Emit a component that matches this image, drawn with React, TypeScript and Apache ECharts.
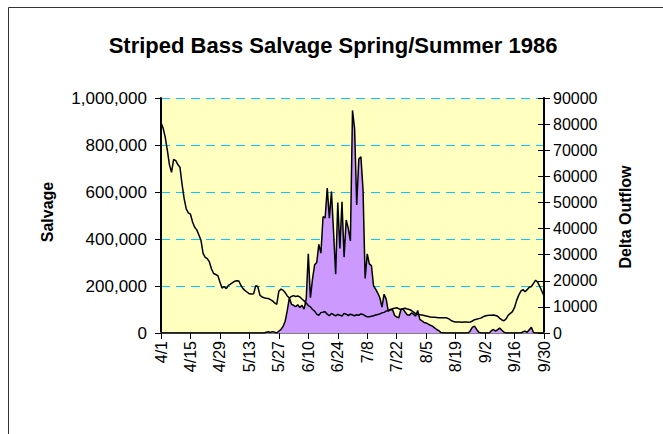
import React, { useEffect, useRef } from "react";
import * as echarts from "echarts";

const title = "Striped Bass Salvage Spring/Summer 1986";
const startMonth = 4;
const monthLengths = [30, 31, 30, 31, 31, 30]; // Apr..Sep 1986
const tickLabels = ["4/1", "4/15", "4/29", "5/13", "5/27", "6/10", "6/24", "7/8", "7/22", "8/5", "8/19", "9/2", "9/16", "9/30"];

// Daily salvage, 4/1 .. 9/30 (fish)
const salvage = [
  0, 0, 0, 0, 0, 0, 0, 0, 0, 0,
  0, 0, 0, 0, 0, 0, 0, 0, 0, 0,
  0, 0, 0, 0, 0, 0, 0, 0, 0, 0,
  0, 0, 0, 0, 0, 0, 0, 0, 0, 0,
  0, 0, 0, 0, 0, 0, 0, 0, 0, 0,
  3000, 5000, 2000, 6000, 3000, 0, 8000, 15000, 28000, 50000,
  95000, 150000, 122000, 118000, 112000, 120000, 108000, 118000, 102000, 145000,
  337000, 150000, 230000, 290000, 300000, 377000, 340000, 495000, 490000, 617000,
  489000, 602000, 430000, 250000, 555000, 360000, 558000, 323000, 481000, 445000,
  392000, 947000, 870000, 545000, 740000, 750000, 610000, 232000, 337000, 294000,
  287000, 201000, 187000, 170000, 150000, 110000, 165000, 144000, 93000, 98000,
  100000, 75000, 68000, 65000, 100000, 103000, 89000, 78000, 75000, 85000,
  80000, 72000, 96000, 58000, 52000, 45000, 43000, 38000, 33000, 29000,
  22000, 15000, 10000, 2000, 0, 0, 0, 0, 0, 0,
  0, 0, 0, 0, 0, 0, 0, 10000, 25000, 29000,
  15000, 3000, 0, 0, 0, 0, 0, 10000, 15000, 8000,
  14000, 21000, 12000, 3000, 0, 0, 0, 0, 0, 0,
  0, 0, 5000, 8000, 3000, 14000, 24000, 2000, 0, 0,
  0, 0, 0,
];

// Daily Delta Outflow, 4/1 .. 9/30 (cfs)
const deltaOutflow = [
  80500, 78500, 75000, 70000, 64500, 61500, 66500, 66000, 64500, 63500,
  57000, 51500, 47500, 46000, 45500, 42500, 40500, 39500, 37500, 35500,
  30500, 29000, 28500, 27200, 24500, 22800, 22400, 22000, 19500, 17200,
  17800, 17000, 18200, 18700, 19300, 19800, 20000, 19900, 18200, 17000,
  16200, 15600, 15000, 14900, 15000, 18100, 17800, 14500, 13800, 13500,
  13300, 13200, 12800, 12300, 11500, 11000, 16000, 16800, 16400, 15500,
  14200, 13400, 14000, 14300, 14000, 14200, 13800, 13000, 12300, 11500,
  10500, 10000, 9000, 8400, 7200, 6800, 7800, 8000, 8100, 7200,
  6600, 7500, 7000, 6600, 7100, 6800, 6500, 7500, 7200, 6700,
  7200, 6900, 6600, 7000, 6800, 7300, 7100, 6600, 6200, 6200,
  6400, 6600, 6900, 7100, 7300, 7700, 7900, 8400, 8600, 9000,
  9300, 9500, 9700, 9300, 9000, 9300, 9500, 9200, 9000, 8600,
  8000, 7400, 7100, 7000, 6900, 6700, 6500, 6300, 6100, 6000,
  6000, 5900, 5800, 5800, 5800, 5800, 5700, 5300, 4700, 4400,
  4200, 4200, 4200, 4100, 4200, 4200, 4100, 4200, 4600, 5100,
  5300, 5500, 5700, 6200, 6500, 6700, 6800, 6800, 6900, 6700,
  6400, 5600, 5000, 4700, 5400, 6800, 7500, 8200, 9800, 12500,
  14500, 16000, 16600, 15800, 16600, 17500, 17800, 19000, 20200, 19500,
  17800, 16000, 14200,
];

const days: string[] = [];
monthLengths.forEach((len, i) => {
  for (let d = 1; d <= len; d++) days.push(`${startMonth + i}/${d}`);
});

const FONT = "'Liberation Sans', Arial, sans-serif";

export default function App() {
  const ref = useRef<HTMLDivElement>(null);
  useEffect(() => {
    if (!ref.current) return;
    const chart = echarts.init(ref.current, undefined, { renderer: "svg" });
    chart.setOption({
      animation: false,
      backgroundColor: "#ffffff",
      textStyle: { fontFamily: FONT },
      graphic: [
        {
          type: "rect",
          z: -10,
          shape: { x: 8.5, y: 7.5, width: 800, height: 600 },
          style: { fill: "none", stroke: "#333333", lineWidth: 1 },
        },
        {
          type: "text",
          x: 333,
          y: 45,
          style: {
            text: title,
            fontFamily: FONT,
            fontSize: 22,
            fontWeight: "bold",
            fill: "#000",
            align: "center",
            verticalAlign: "middle",
          },
        },
        {
          type: "text",
          x: 47,
          y: 212,
          rotation: Math.PI / 2,
          style: {
            text: "Salvage",
            fontFamily: FONT,
            fontSize: 16,
            fontWeight: "bold",
            fill: "#000",
            align: "center",
            verticalAlign: "middle",
          },
        },
        {
          type: "text",
          x: 625,
          y: 217,
          rotation: Math.PI / 2,
          style: {
            text: "Delta Outflow",
            fontFamily: FONT,
            fontSize: 16,
            fontWeight: "bold",
            fill: "#000",
            align: "center",
            verticalAlign: "middle",
          },
        },
      ],
      grid: {
        left: 161,
        right: 119,
        top: 98,
        bottom: 101,
        show: true,
        backgroundColor: "#FFFFC0",
        borderColor: "#808080",
        borderWidth: 0,
      },
      xAxis: [
        {
          type: "category",
          data: days,
          boundaryGap: false,
          axisLine: { lineStyle: { color: "#000", width: 2 } },
          axisTick: {
            interval: 13,
            length: 6,
            lineStyle: { color: "#000", width: 1 },
          },
          axisLabel: {
            interval: 13,
            rotate: 90,
            margin: 8,
            fontSize: 16,
            color: "#000",
            fontFamily: FONT,
            formatter: (v: string) => (tickLabels.includes(v) ? v : ""),
          },
          splitLine: { show: false },
        },
        {
          type: "category",
          data: days,
          position: "top",
          boundaryGap: false,
          axisLine: { lineStyle: { color: "#808080", width: 2 } },
          axisTick: { show: false },
          axisLabel: { show: false },
        },
      ],
      yAxis: [
        {
          type: "value",
          min: 0,
          max: 1000000,
          interval: 200000,
          position: "left",
          axisLine: { show: true, lineStyle: { color: "#000", width: 2 } },
          axisTick: { show: true, length: 6, lineStyle: { color: "#000" } },
          axisLabel: {
            fontSize: 17,
            color: "#000",
            margin: 14,
            fontFamily: FONT,
            formatter: (v: number) => v.toLocaleString("en-US"),
          },
          splitLine: {
            show: true,
            lineStyle: { color: "#00CCFF", type: [9, 6], width: 1 },
          },
        },
        {
          type: "value",
          min: 0,
          max: 90000,
          interval: 10000,
          position: "right",
          axisLine: { show: true, lineStyle: { color: "#000", width: 2 } },
          axisTick: { show: true, length: 6, lineStyle: { color: "#000" } },
          axisLabel: {
            fontSize: 16,
            color: "#000",
            margin: 9,
            fontFamily: FONT,
            formatter: (v: number) => String(v),
          },
          splitLine: { show: false },
        },
        {
          type: "value",
          min: 0,
          max: 90000,
          interval: 10000,
          position: "right",
          axisLine: { show: false },
          axisTick: { show: true, inside: true, length: 6, lineStyle: { color: "#000" } },
          axisLabel: { show: false },
          splitLine: { show: false },
        },
      ],
      series: [
        {
          name: "Salvage",
          type: "line",
          xAxisIndex: 0,
          yAxisIndex: 0,
          data: salvage,
          symbol: "none",
          lineStyle: { color: "#000", width: 1.5 },
          areaStyle: { color: "#CC99FF", opacity: 1 },
          z: 2,
        },
        {
          name: "Delta Outflow",
          type: "line",
          xAxisIndex: 0,
          yAxisIndex: 1,
          data: deltaOutflow,
          symbol: "none",
          lineStyle: { color: "#000", width: 1.5 },
          z: 3,
        },
      ],
    });
    return () => chart.dispose();
  }, []);
  return (
    <div
      ref={ref}
      style={{ position: "absolute", left: 0, top: 0, width: 663, height: 434 }}
    />
  );
}
